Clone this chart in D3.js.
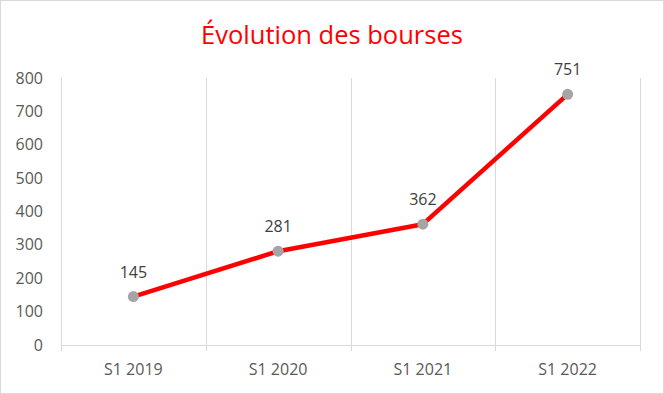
<!DOCTYPE html>
<html>
<head>
<meta charset="utf-8">
<script src="https://cdn.jsdelivr.net/npm/d3@7"></script>
<style>
  body { margin: 0; background: #fff; }
  #chart text { font-family: "Open Sans", "Liberation Sans", sans-serif; }
</style>
</head>
<body>
<div id="chart"></div>
<script>
// chart data
var categories = ['S1 2019', 'S1 2020', 'S1 2021', 'S1 2022'];
var values = [145, 281, 362, 751];
var yTicks = [0, 100, 200, 300, 400, 500, 600, 700, 800];
var title = 'Évolution des bourses';

var width = 664, height = 394;
var margin = { top: 78, right: 24, bottom: 49, left: 61 };

var svg = d3.select('#chart').append('svg')
    .attr('width', width)
    .attr('height', height);

// outer border
svg.append('rect')
    .attr('x', 0.5).attr('y', 0.5)
    .attr('width', width - 1).attr('height', height - 1)
    .attr('fill', '#fff')
    .attr('stroke', '#d9d9d9');

svg.append('text')
    .attr('x', 332)
    .attr('y', 44)
    .attr('text-anchor', 'middle')
    .attr('fill', '#ff0000')
    .style('font-size', '25.5px')
    .text(title);

var x = d3.scaleBand()
    .domain(categories)
    .range([margin.left, width - margin.right]);

var y = d3.scaleLinear()
    .domain([0, 800])
    .range([height - margin.bottom, margin.top]);

// vertical gridlines at category boundaries
var bounds = categories.map(function(c) { return x(c); }).concat([x.range()[1]]);
svg.append('g').selectAll('line')
    .data(bounds)
    .enter().append('line')
    .attr('x1', function(d) { return Math.round(d) + 0.5; })
    .attr('x2', function(d) { return Math.round(d) + 0.5; })
    .attr('y1', y(800))
    .attr('y2', y(0) + 6)
    .attr('stroke', '#d9d9d9');

// x axis line
svg.append('line')
    .attr('x1', x.range()[0])
    .attr('x2', x.range()[1])
    .attr('y1', Math.round(y(0)) + 0.5)
    .attr('y2', Math.round(y(0)) + 0.5)
    .attr('stroke', '#d9d9d9');

// y tick labels
svg.append('g').selectAll('text')
    .data(yTicks)
    .enter().append('text')
    .attr('x', 43)
    .attr('y', function(d) { return y(d); })
    .attr('dy', '0.35em')
    .attr('text-anchor', 'end')
    .attr('fill', '#595959')
    .style('font-size', '16px')
    .text(function(d) { return d; });

// x tick labels
svg.append('g').selectAll('text')
    .data(categories)
    .enter().append('text')
    .attr('x', function(d) { return x(d) + x.bandwidth() / 2; })
    .attr('y', y(0) + 30)
    .attr('text-anchor', 'middle')
    .attr('fill', '#595959')
    .style('font-size', '16px')
    .text(function(d) { return d; });

var line = d3.line()
    .x(function(d, i) { return x(categories[i]) + x.bandwidth() / 2; })
    .y(function(d) { return y(d); });

svg.append('path')
    .datum(values)
    .attr('d', line)
    .attr('fill', 'none')
    .attr('stroke', '#ff0000')
    .attr('stroke-width', 4.5)
    .attr('stroke-linejoin', 'round');

svg.append('g').selectAll('circle')
    .data(values)
    .enter().append('circle')
    .attr('cx', function(d, i) { return x(categories[i]) + x.bandwidth() / 2; })
    .attr('cy', function(d) { return y(d); })
    .attr('r', 5.5)
    .attr('fill', '#a5a5a5');

// data labels
svg.append('g').selectAll('text')
    .data(values)
    .enter().append('text')
    .attr('x', function(d, i) { return x(categories[i]) + x.bandwidth() / 2; })
    .attr('y', function(d) { return y(d) - 19; })
    .attr('text-anchor', 'middle')
    .attr('fill', '#404040')
    .style('font-size', '16px')
    .text(function(d) { return d; });
</script>
</body>
</html>
